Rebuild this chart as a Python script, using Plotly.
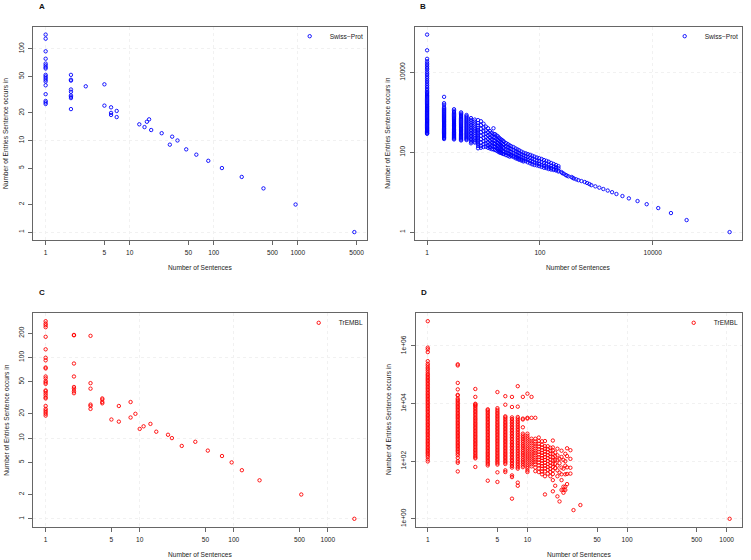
import math
import plotly.graph_objects as go

FONT = "Liberation Sans, Arial, Helvetica, sans-serif"
W, H = 751, 560

# ---------------- Panel A : Swiss-Prot (sentence groups) ----------------
A_sentences = [1, 1, 1, 1, 1, 1, 1, 1, 1, 1, 1, 1, 1, 1, 1, 1, 1, 1,
               2, 2, 2, 2, 2, 2, 2, 2, 2,
               3, 5, 5, 6, 6, 6, 7, 7,
               13, 15, 16, 17, 18, 24, 30, 32, 37, 47, 62, 86, 125, 215, 390, 940, 4700]
A_entries = [143, 129, 94, 78, 69, 66, 63, 61, 52, 50, 48, 46, 44, 40, 32, 27, 26, 25,
             52, 46, 45, 36, 34, 31, 30, 29, 22,
             39, 41, 24, 23, 20, 19, 21, 18,
             15, 14, 16, 17, 13, 12, 9, 11, 10, 8, 7, 6, 5, 4, 3, 2, 1]

# ---------------- Panel C : TrEMBL (sentence groups) ----------------
C_sentences = [1] * 27 + [2] * 8 + [3] * 6 + [4] * 4 + \
              [5, 6, 6, 8, 8, 9, 10, 11, 13, 15, 20, 22, 28, 39, 53, 75, 95, 122, 188, 522, 1915]
C_entries = [281, 263, 251, 237, 180, 126, 99, 92, 75, 73, 58, 55, 51, 49, 47, 39, 38, 36, 34, 32, 31,
             25, 23, 22, 21, 20, 19,
             190, 188, 84, 58, 43, 41, 38, 36,
             185, 48, 41, 26, 25, 23,
             31, 30, 28, 27,
             17, 25, 16, 28, 18, 20, 13, 14, 15, 12, 11, 10, 8, 9, 7, 6, 5, 4, 3, 2, 1]

# ---------------- Panel B : Swiss-Prot (all sentences) ----------------
B_counts = [1, 2, 3, 4, 5, 6, 7, 8, 9, 10, 11, 12, 13, 14, 15, 16, 17, 18, 19, 20, 21, 22, 23,
            25, 27, 29, 31, 34, 37, 40, 43, 47, 51, 56, 61, 67, 73, 80, 88, 97, 107, 118, 130,
            143, 158, 175, 193, 213, 240, 249, 265, 286, 300, 320, 363, 380, 400, 440, 480,
            544, 622, 685, 752, 815, 960, 1130, 1330, 1590, 1900, 2270, 2900, 3770, 5370,
            7800, 12500, 21000, 39800, 230000]
B_entries = [
    [89000, 36000, 22000, 19000, 17000, 15500, 14000, 12800, 11800, 10500, 9500, 8700, 7800,
     7100, 6400, 5800, 5200, 4700, 4300, 3900, 3600, 3300, 3100, 2900, 2700, 2550, 2400, 2250,
     2100, 1980, 1860, 1750, 1650, 1550, 1450, 1380, 1300, 1230, 1160, 1100, 1040, 980, 930,
     880, 830, 790, 750, 710, 670, 640, 610, 580, 550, 520, 495, 470, 445, 420, 400, 380, 360,
     345, 330, 315, 300, 290],
    [2450, 1700, 1550, 1350, 1250, 1180, 1110, 1050, 990, 930, 880, 830, 790, 750, 710, 670,
     635, 600, 570, 540, 510, 485, 460, 435, 410, 390, 370, 350, 330, 315, 300, 285, 270, 255,
     240, 228, 215],
    [1200, 1100, 1020, 950, 890, 830, 780, 730, 690, 650, 610, 575, 540, 510, 480, 455, 430,
     405, 380, 360, 340, 320, 305, 290, 275, 260, 245, 232, 220, 210],
    [1000, 930, 870, 810, 760, 710, 670, 630, 590, 555, 520, 490, 460, 435, 410, 385, 365, 345,
     325, 305, 290, 275, 260, 245, 232, 220, 208, 198],
    [860, 800, 750, 700, 655, 615, 575, 540, 505, 475, 445, 420, 395, 372, 350, 330, 312, 295,
     280, 265, 250, 237, 225, 213, 203],
    [720, 650, 590, 530, 480, 440, 400, 365, 335, 305, 280, 257, 236, 217, 200, 184, 168],
    [660, 590, 525, 470, 420, 380, 342, 308, 278, 252, 228, 206, 187, 175],
    [640, 540, 470, 410, 362, 320, 285, 255, 228, 204, 182, 162, 145, 126],
    [600, 480, 390, 320, 260, 215, 175, 145, 130],
    [520, 420, 340, 280, 230, 190, 160, 135],
    [440, 350, 290, 240, 198, 165, 138],
    [400, 320, 262, 215, 178, 148, 130],
    [340, 280, 232, 192, 160, 136, 125],
    [310, 255, 210, 175, 148, 120],
    [400, 290, 240, 198, 165, 138, 118],
    [285, 235, 195, 162, 136, 115],
    [265, 218, 180, 150, 125, 110],
    [250, 205, 170, 142, 118, 105],
    [230, 190, 158, 132, 110, 100],
    [215, 178, 148, 124, 104, 97],
    [205, 168, 140, 116, 95],
    [195, 160, 132, 108, 92],
    [185, 152, 126, 104, 90],
    [170, 142, 118, 98, 85],
    [160, 134, 112, 94, 82],
    [150, 126, 106, 90, 78],
    [142, 120, 101, 86, 80],
    [135, 114, 96, 82, 76],
    [125, 106, 90, 77, 71],
    [118, 100, 85, 74, 68],
    [112, 95, 81, 70, 65],
    [104, 89, 76, 66, 62],
    [98, 84, 72, 63, 59],
    [94, 80, 68, 60],
    [90, 76, 65, 56],
    [86, 72, 61, 53],
    [82, 69, 58, 50],
    [78, 66, 55, 48],
    [74, 62, 53, 47],
    [71, 60, 51, 45],
    [68, 57, 48, 43],
    [64, 54, 46, 41],
    [61, 52, 44, 40],
    [58, 49, 42, 38],
    [54, 46, 40, 37],
    [51, 44, 38, 36],
    [48, 42, 37, 35],
    [45, 40, 35, 33],
    [32], [30], [29], [27], [26], [25], [24], [23], [22], [21], [20], [19], [18], [17], [16],
    [15], [14], [13], [12], [11], [10], [9], [8], [7], [6], [5], [4], [3], [2], [1],
]

# ---------------- Panel D : TrEMBL (all sentences) ----------------
D_counts = [1, 2, 3, 4, 5, 6, 7, 8, 9, 10, 11, 12, 13, 14, 15, 16, 17, 18, 19, 20, 21, 22,
            23, 24, 25, 27, 29, 34, 1070]
D_entries = [
    [7200000, 870000, 760000, 610000, 295000, 240000, 210000, 180000, 160000, 140000, 120000,
     105000, 95000, 84000, 75000, 67000, 60000, 53000, 47000, 42000, 37000, 33000, 29500,
     26000, 23000, 20500, 18300, 16300, 14500, 12900, 11500, 10200, 9100, 8100, 7200, 6400,
     5700, 5100, 4500, 4000, 3600, 3200, 2850, 2550, 2250, 2000, 1800, 1600, 1420, 1270, 1130,
     1000, 900, 800, 710, 630, 560, 500, 445, 400, 355, 315, 280, 250, 225, 200, 182, 160,
     140, 115, 98],
    [230000, 210000, 52000, 31000, 20000, 19000, 15000, 13400, 11900, 10600, 9400, 8400, 7500,
     6700, 5950, 5300, 4700, 4200, 3750, 3350, 3000, 2650, 2350, 2100, 1880, 1670, 1490, 1330,
     1180, 1050, 940, 840, 750, 670, 600, 530, 470, 420, 375, 335, 300, 265, 235, 210, 182,
     160, 130, 100, 88, 44],
    [32000, 17000, 9800, 9300, 8600, 8000, 7100, 6300, 5600, 5000, 4450, 3950, 3500, 3100,
     2800, 2500, 2200, 1980, 1760, 1570, 1400, 1250, 1110, 990, 880, 780, 700, 620, 550, 490,
     440, 390, 350, 310, 275, 245, 218, 195, 172, 153, 136, 125, 63],
    [6300, 5800, 5200, 4600, 4100, 3650, 3250, 2900, 2600, 2300, 2050, 1830, 1630, 1450, 1290,
     1150, 1020, 910, 810, 720, 640, 570, 510, 455, 405, 360, 320, 285, 255, 225, 200, 180,
     160, 142, 127, 113, 100, 90, 80, 71, 21],
    [25000, 6900, 6000, 5300, 4700, 4200, 3700, 3300, 2950, 2600, 2300, 2050, 1820, 1620, 1440,
     1280, 1140, 1010, 900, 800, 710, 630, 560, 500, 445, 395, 350, 310, 275, 245, 218, 194,
     172, 153, 136, 121, 108, 96, 85, 76, 41, 19],
    [18000, 9100, 3600, 3300, 2950, 2600, 2300, 2050, 1830, 1630, 1450, 1290, 1150, 1020, 910,
     810, 720, 640, 570, 510, 455, 405, 360, 320, 285, 255, 225, 200, 180, 160, 142, 127, 113,
     100, 90, 80, 48, 42],
    [17000, 7600, 3300, 2900, 2550, 2250, 2000, 1750, 1550, 1380, 1220, 1080, 960, 850, 750,
     670, 590, 520, 460, 410, 365, 325, 290, 255, 228, 202, 180, 160, 142, 126, 112, 100, 88,
     78, 68, 60, 32, 28, 5],
    [40000, 7800, 3400, 3000, 2600, 2300, 2000, 1750, 1550, 1350, 1200, 1050, 920, 810, 710,
     625, 550, 485, 425, 375, 330, 290, 255, 225, 198, 174, 153, 135, 119, 105, 92, 81, 71,
     62, 55, 18, 14],
    [17000, 3000, 2800, 1500, 900, 780, 680, 590, 510, 445, 385, 335, 290, 250, 218, 190, 165,
     143, 124, 108, 94, 82, 71, 62],
    [22000, 3200, 3000, 900, 760, 650, 560, 480, 410, 350, 300, 260, 222, 190, 163, 140, 120,
     103, 88, 75, 65, 57, 48, 42],
    [17000, 3200, 600, 500, 420, 350, 295, 250, 210, 178, 150, 127, 108, 92, 78, 66],
    [3200, 600, 480, 400, 330, 275, 230, 192, 160, 133, 112, 93, 78, 60, 45],
    [660, 500, 400, 320, 260, 210, 170, 138, 112, 90, 72, 56, 42],
    [490, 370, 300, 240, 195, 158, 128, 104, 84, 68, 55, 44, 35],
    [500, 330, 270, 215, 172, 138, 110, 88, 70, 56, 44, 30, 7],
    [330, 260, 205, 162, 128, 101, 80, 63, 50, 37],
    [290, 230, 180, 142, 112, 88, 69, 54, 42, 30],
    [520, 300, 235, 180, 138, 106, 82, 63, 48, 36, 22, 9],
    [200, 150, 110, 80, 58, 14],
    [270, 160, 110, 70, 48, 30, 6],
    [120, 85, 40, 4],
    [230, 140, 60, 35, 22, 10],
    [110, 55, 13, 10, 8],
    [180, 100, 70, 35, 13, 10],
    [280, 150, 61, 36, 16],
    [240, 120, 59, 37],
    [2],
    [3],
    [1],
]

# ---------------- tick labels ----------------
A_xticks = [1, 5, 10, 50, 100, 500, 1000, 5000]
A_yticks = [1, 2, 5, 10, 20, 50, 100]
B_xticks = [1, 100, 10000]
B_yticks = [1, 100, 10000]
C_xticks = [1, 5, 10, 50, 100, 500, 1000]
C_yticks = [1, 2, 5, 10, 20, 50, 100, 200]
D_xticks = [1, 5, 10, 50, 100, 500, 1000]
D_yticks = [1, 100, 10000, 1000000]
D_yticklabels = ["1e+00", "1e+02", "1e+04", "1e+06"]

X_TITLE = "Number of Sentences"
Y_TITLE = "Number of Entries Sentence occurs in"


def flatten(counts, groups):
    xs, ys = [], []
    for c, g in zip(counts, groups):
        xs += [c] * len(g)
        ys += list(g)
    return xs, ys


def log_range(vals):
    lo, hi = math.log10(min(vals)), math.log10(max(vals))
    pad = 0.04 * (hi - lo)
    return [lo - pad, hi + pad]


B_sentences, B_values = flatten(B_counts, B_entries)
D_sentences, D_values = flatten(D_counts, D_entries)

# pixel boxes of the four plot regions: (left, right, top, bottom)
boxes = {
    1: (33.3, 366.7, 26.7, 240.0),
    2: (415.0, 741.7, 26.7, 240.0),
    3: (33.3, 366.7, 313.3, 526.7),
    4: (415.7, 741.7, 313.3, 526.7),
}

panels = [
    (1, "A", A_sentences, A_entries, "Swiss\u2212Prot", "blue", A_xticks, A_yticks, None,
     [1, 10, 100, 1000], [1, 10, 100]),
    (2, "B", B_sentences, B_values, "Swiss\u2212Prot", "blue", B_xticks, B_yticks, None,
     [1, 100, 10000], [1, 100, 10000]),
    (3, "C", C_sentences, C_entries, "TrEMBL", "red", C_xticks, C_yticks, None,
     [1, 10, 100, 1000], [1, 10, 100]),
    (4, "D", D_sentences, D_values, "TrEMBL", "red", D_xticks, D_yticks, D_yticklabels,
     [1, 10, 100, 1000], [1, 100, 10000, 1000000]),
]
# approximate legend text widths (px) used to place each legend's left edge
legend_text_w = {1: 33, 2: 33, 3: 24, 4: 24}

fig = go.Figure()
annotations = []
layout_extra = {}

for idx, letter, xs, ys, name, color, xt, yt, ytt, xgrid, ygrid in panels:
    sfx = "" if idx == 1 else str(idx)
    leg = "legend" if idx == 1 else "legend" + str(idx)
    fig.add_trace(go.Scatter(
        x=xs, y=ys, mode="markers", name=name,
        xaxis="x" + sfx, yaxis="y" + sfx, legend=leg,
        marker=dict(symbol="circle-open", size=3.4, color=color, line=dict(width=0.9, color=color)),
        cliponaxis=False,
    ))
    l, r, t, b = boxes[idx]
    common = dict(
        type="log", showline=True, linecolor="#666666", linewidth=1, mirror=True,
        ticks="outside", ticklen=4, tickcolor="#666666", tickwidth=1,
        tickfont=dict(family=FONT, size=6.6, color="#222222"),
        showgrid=False, zeroline=False, automargin=False, fixedrange=True,
    )
    grid = dict(showgrid=True, gridcolor="#f1f1f1", griddash="dot", gridwidth=1, ticks="")
    xa = dict(common, domain=[l / W, r / W], anchor="y" + sfx, range=log_range(xs),
              tickmode="array", tickvals=xt, ticktext=[str(v) for v in xt],
              ticklabelstandoff=2,
              minor=dict(grid, tickmode="array", tickvals=xgrid))
    ya = dict(common, domain=[1 - b / H, 1 - t / H], anchor="x" + sfx, range=log_range(ys),
              tickmode="array", tickvals=yt,
              ticktext=ytt if ytt else [str(v) for v in yt],
              tickangle=-90, ticklabelstandoff=2,
              minor=dict(grid, tickmode="array", tickvals=ygrid))
    layout_extra["xaxis" + sfx] = xa
    layout_extra["yaxis" + sfx] = ya
    left_px = r - 44 - legend_text_w[idx]
    layout_extra[leg] = dict(
        x=left_px / W, xanchor="left", y=1 - (t - 5) / H, yanchor="top",
        bgcolor="rgba(0,0,0,0)", borderwidth=0,
        font=dict(family=FONT, size=6.6, color="#222222"),
        itemwidth=30, tracegroupgap=0,
    )
    # axis titles
    annotations.append(dict(text=X_TITLE, x=(l + r) / 2 / W, y=1 - (b + 27.7) / H,
                            xref="paper", yref="paper", showarrow=False,
                            xanchor="center", yanchor="middle",
                            font=dict(family=FONT, size=6.6, color="#222222")))
    annotations.append(dict(text=Y_TITLE, x=(l - 27.6) / W, y=1 - (t + b) / 2 / H,
                            xref="paper", yref="paper", showarrow=False, textangle=-90,
                            xanchor="center", yanchor="middle",
                            font=dict(family=FONT, size=6.6, color="#222222")))
    # panel letter
    annotations.append(dict(text="<b>" + letter + "</b>", x=(l + 8.4) / W, y=1 - (t - 20.5) / H,
                            xref="paper", yref="paper", showarrow=False,
                            xanchor="center", yanchor="middle",
                            font=dict(family=FONT, size=8, color="#111111")))

fig.update_layout(
    width=W, height=H,
    margin=dict(l=0, r=0, t=0, b=0),
    paper_bgcolor="white", plot_bgcolor="white",
    font=dict(family=FONT, size=6.6, color="#222222"),
    showlegend=True,
    annotations=annotations,
    **layout_extra,
)

fig.write_html("out.html", config={"displayModeBar": False},
               post_script="document.body.style.margin='0px';")
